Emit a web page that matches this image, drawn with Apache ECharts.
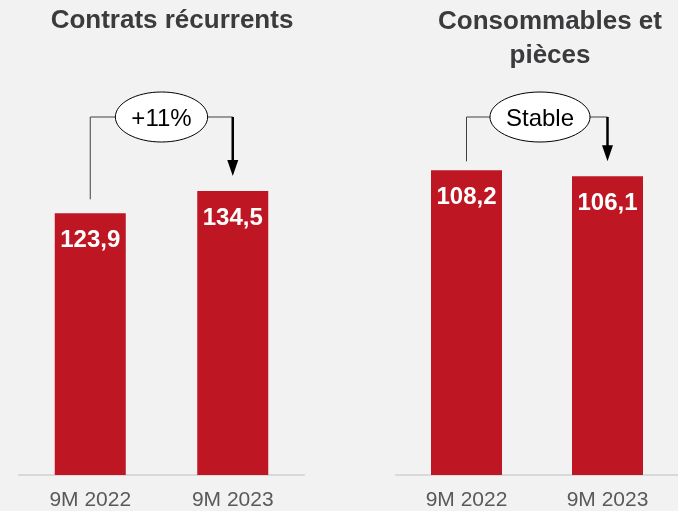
<!DOCTYPE html>
<html>
<head>
<meta charset="utf-8">
<script src="https://cdn.jsdelivr.net/npm/echarts@6/dist/echarts.min.js"></script>
<style>
html, body { margin: 0; background: #f2f2f2; }
#main { width: 678px; height: 511px; }
</style>
</head>
<body>
<div id="main"></div>
<script>
// données
var periods = ['9M 2022', '9M 2023'];
var recurringValues = [123.9, 134.5];
var consumablesValues = [108.2, 106.1];
var panelTitles = ['Contrats récurrents', 'Consommables et\npièces'];
var changeLabels = ['+11%', 'Stable'];

var FONT = '"Liberation Sans", Arial, sans-serif';
var RED = '#be1622';

var chart = echarts.init(document.getElementById('main'), null, { renderer: 'canvas' });

function commaLabel(p) {
  return p.value.toFixed(1).replace('.', ',');
}

function xAxisFor(i) {
  return {
    type: 'category',
    gridIndex: i,
    data: periods,
    axisLine: { lineStyle: { color: '#d9d9d9', width: 2 } },
    axisTick: { show: false },
    axisLabel: { fontSize: 21, color: '#595959', margin: 15, fontFamily: FONT }
  };
}

function barSeries(i, values) {
  return {
    type: 'bar',
    xAxisIndex: i,
    yAxisIndex: i,
    data: values,
    barWidth: 71,
    itemStyle: { color: RED },
    label: {
      show: true,
      position: 'insideTop',
      distance: 15,
      color: '#fff',
      fontSize: 24,
      fontWeight: 'bold',
      fontFamily: FONT,
      formatter: commaLabel
    }
  };
}

var option = {
  backgroundColor: '#f2f2f2',
  animation: false,
  grid: [
    { left: 19, width: 285, top: 52.6, bottom: 36 },
    { left: 396, right: 0, top: 52.6, bottom: 36 }
  ],
  xAxis: [xAxisFor(0), xAxisFor(1)],
  yAxis: [
    { gridIndex: 0, min: 0, max: 200, show: false },
    { gridIndex: 1, min: 0, max: 150, show: false }
  ],
  series: [barSeries(0, recurringValues), barSeries(1, consumablesValues)]
};
chart.setOption(option);

// titres + flèches d'évolution
var ctx = document.createElement('canvas').getContext('2d');
ctx.font = '24px ' + FONT;

var panels = [recurringValues, consumablesValues];
var startGaps = [14, 9];
var bracketY = 117;
var elements = [
  {
    type: 'text', x: 172, y: 21,
    style: { text: panelTitles[0], font: 'bold 26px ' + FONT, fill: '#3b3b3d', align: 'center', verticalAlign: 'middle' }
  },
  {
    type: 'text', x: 550, y: 5,
    style: { text: panelTitles[1], font: 'bold 26px ' + FONT, fill: '#3b3b3d', align: 'center', verticalAlign: 'top', lineHeight: 34 }
  }
];

panels.forEach(function (values, i) {
  var p0 = chart.convertToPixel({ seriesIndex: i }, [0, values[0]]);
  var p1 = chart.convertToPixel({ seriesIndex: i }, [1, values[1]]);
  var cx = (p0[0] + p1[0]) / 2 + i * 3;
  var rx = ctx.measureText(changeLabels[i]).width / 2 + 16;
  var ry = 25;
  var tip = p1[1] - 15;

  elements.push({
    type: 'polyline',
    shape: { points: [[p0[0], p0[1] - startGaps[i]], [p0[0], bracketY], [cx - rx, bracketY]] },
    style: { stroke: '#404040', lineWidth: 1, fill: null }
  });
  elements.push({
    type: 'line',
    shape: { x1: cx + rx, y1: bracketY, x2: p1[0], y2: bracketY },
    style: { stroke: '#404040', lineWidth: 1 }
  });
  elements.push({
    type: 'line',
    shape: { x1: p1[0], y1: bracketY, x2: p1[0], y2: tip - 12 },
    style: { stroke: '#000', lineWidth: 2.5 }
  });
  elements.push({
    type: 'polygon',
    shape: { points: [[p1[0] - 5.5, tip - 16], [p1[0] + 5.5, tip - 16], [p1[0], tip]] },
    style: { fill: '#000' }
  });
  elements.push({
    type: 'ellipse',
    shape: { cx: cx, cy: bracketY, rx: rx, ry: ry },
    style: { fill: '#fff', stroke: '#000', lineWidth: 1 }
  });
  elements.push({
    type: 'text', x: cx, y: bracketY + 2,
    style: { text: changeLabels[i], font: '24px ' + FONT, fill: '#000', align: 'center', verticalAlign: 'middle' }
  });
});

chart.setOption({ graphic: elements });
</script>
</body>
</html>
